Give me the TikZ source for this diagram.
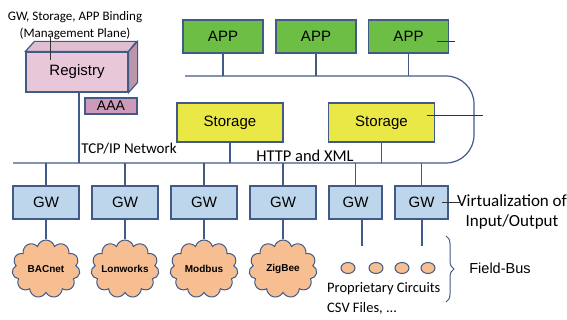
\documentclass[tikz,border=0pt]{standalone}
\usepackage{fontspec}
\setmainfont{Carlito}
\setsansfont{Liberation Sans}
\usetikzlibrary{positioning, shapes, decorations.pathreplacing}

\definecolor{linecol}{RGB}{65,90,135}
\definecolor{appgreen}{RGB}{108,190,69}
\definecolor{storeyellow}{RGB}{234,232,70}
\definecolor{gwblue}{RGB}{190,214,236}
\definecolor{peach}{RGB}{246,190,145}
\definecolor{regpink}{RGB}{232,200,216}
\definecolor{regtop}{RGB}{222,190,208}
\definecolor{regside}{RGB}{185,150,170}
\definecolor{aaafill}{RGB}{205,155,185}

\begin{document}
\begin{tikzpicture}[
    x=1pt, y=-1pt,
    box/.style={draw=linecol, line width=1.2pt, font=\sffamily\fontsize{15}{17}\selectfont, inner sep=0pt},
    app/.style={box, fill=appgreen, minimum width=80pt, minimum height=33pt},
    store/.style={box, fill=storeyellow, minimum width=106pt, minimum height=39pt},
    gw/.style={box, fill=gwblue, minimum width=66pt, minimum height=33pt},
    gwsmall/.style={gw, minimum width=53pt},
    bus/.style={draw=linecol, line width=1.2pt},
    fieldnet/.style={cloud, cloud puffs=11, draw=linecol, line width=1pt, fill=peach,
        minimum width=68pt, minimum height=58pt, text width=52pt, align=center,
        inner xsep=-10pt, inner ysep=0pt,
        font=\sffamily\bfseries\fontsize{10}{12}\selectfont},
    circuit/.style={ellipse, draw=linecol, line width=1pt, fill=peach, minimum width=14pt, minimum height=11pt, inner sep=0pt},
    pointer/.style={draw=black!80, line width=0.6pt},
    note/.style={inner sep=0pt}
]
\useasboundingbox (0,0) rectangle (567,320);

% Registry (3D box)
\node[box, fill=regpink, minimum width=102pt, minimum height=40pt] (reg) at (77,72) {Registry};
\draw[draw=linecol, line width=1.2pt, fill=regtop] (reg.north west) -- ++(9,-10) -- ++(102,0) -- (reg.north east) -- cycle;
\draw[draw=linecol, line width=1.2pt, fill=regside] (reg.north east) -- ++(9,-10) -- ++(0,41) -- (reg.south east) -- cycle;
\node[box, fill=aaafill, minimum width=52pt, minimum height=16pt, font=\sffamily\fontsize{14}{16}\selectfont] (aaa) at (111,106) {AAA};

% Buses
\coordinate (bustap) at (0,163);
\coordinate (apptap) at (0,76);
\draw[bus, rounded corners=28pt] (13,163) -- (474,163) -- (474,76) -- (185,76);
\draw[bus] (reg.south -| 79,0) -- (bustap -| 79,0);

% Applications
\node[app] (app1) at (223,36.5) {APP};
\node[app] (app2) at (316,36.5) {APP};
\node[app] (app3) at (408.5,36.5) {APP};
\foreach \a in {app1,app2,app3}
    \draw[bus] (\a.south) -- (\a.south |- apptap);

% Storage
\node[store] (store1) at (230,122.5) {Storage};
\node[store] (store2) at (381.5,122.5) {Storage};
\foreach \s in {store1,store2}
    \draw[bus] (\s.south) -- (\s.south |- bustap);

% Gateways
\node[gw] (gw1) at (46,202.5) {GW};
\node[gw] (gw2) at (125,202.5) {GW};
\node[gw] (gw3) at (204,202.5) {GW};
\node[gw] (gw4) at (283,202.5) {GW};
\node[gwsmall] (gw5) at (355.5,202.5) {GW};
\node[gwsmall] (gw6) at (421.5,202.5) {GW};
\foreach \g in {gw1,gw2,gw3,gw4,gw5,gw6}
    \draw[bus] (\g.north |- bustap) -- (\g.north);

% Field networks
\node[fieldnet] (bacnet) at (46,269) {BACnet};
\node[fieldnet] (lonworks) at (125,269) {Lonworks};
\node[fieldnet] (modbus) at (204,269) {Modbus};
\node[fieldnet] (zigbee) at (283,269) {ZigBee};
\draw[bus] (gw1) -- (bacnet);
\draw[bus] (gw2) -- (lonworks);
\draw[bus] (gw3) -- (modbus);
\draw[bus] (gw4) -- (zigbee);
\coordinate (gw5end) at (362,246);
\coordinate (gw6end) at (422,246);
\draw[bus] (gw5.south -| gw5end) -- (gw5end);
\draw[bus] (gw6.south -| gw6end) -- (gw6end);

% Proprietary circuits
\foreach \x [count=\i] in {348,376,402,428}
    \node[circuit] (c\i) at (\x,268) {};
\draw[linecol, line width=1pt, decorate, decoration={brace, amplitude=8pt}] (446,236) -- (446,302);

% Labels
\node[note, align=center, font=\fontsize{13}{17}\selectfont] (binding) at (75,26) {GW, Storage, APP Binding\\(Management Plane)};
\node[note, font=\fontsize{15}{17}\selectfont] (tcp) at (129,149) {TCP/IP Network};
\node[note, font=\fontsize{16.5}{17}\selectfont] (http) at (305,156) {HTTP and XML};
\node[note, align=center, font=\fontsize{17}{20}\selectfont] (virt) at (512,212) {Virtualization of\\Input/Output};
\node[note, font=\sffamily\fontsize{14.5}{16}\selectfont] (fieldbus) at (500,268) {Field-Bus};
\node[note, align=left, anchor=north west, font=\fontsize{14.5}{20}\selectfont] (prop) at (327,282) {Proprietary Circuits\\CSV Files, ...};

% Pointers
\draw[pointer] (50,37) -- (50,60);
\draw[pointer] (437,41) -- (455,41);
\draw[pointer] (427,115) -- (483,115);
\draw[pointer] (442,202) -- (461,202);
\end{tikzpicture}
\end{document}
